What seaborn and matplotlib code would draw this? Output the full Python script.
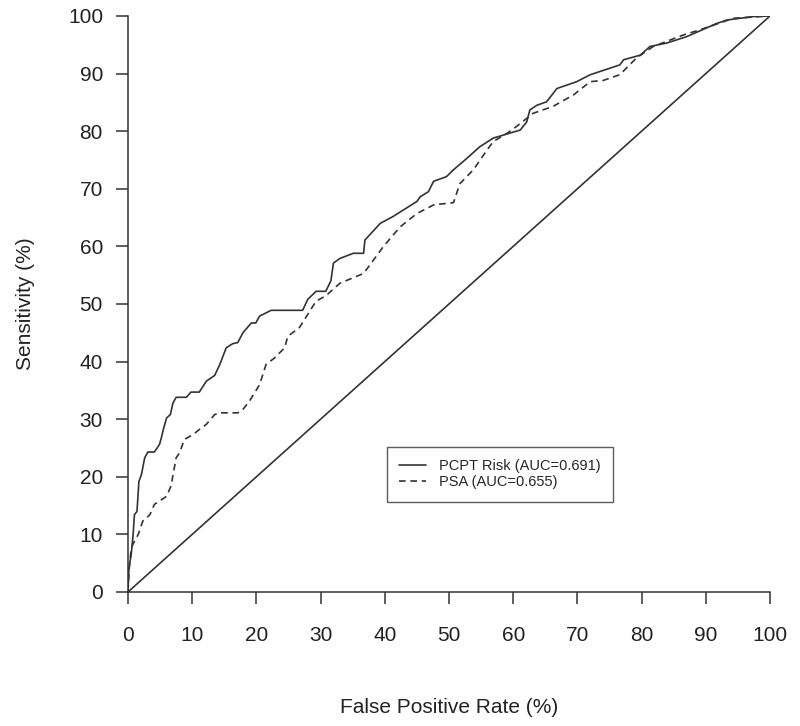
import matplotlib
matplotlib.use("Agg")
import matplotlib.pyplot as plt
import pandas as pd
import seaborn as sns

# ROC points (percent)
pcpt_fpr = [0, 0.15, 0.5, 0.8, 1.0, 1.4, 1.7, 2.1, 2.6, 3.1, 4.1, 4.9, 5.2, 5.5, 6.0,
            6.6, 7.0, 7.5, 9.1, 9.8, 11.1, 12.2, 13.5, 14.3, 15.3, 16.3, 17.1, 17.9, 19.2, 19.9,
            20.5, 22.3, 27.2, 28.0, 29.3, 30.8, 31.6, 32.0, 33.0, 35.1, 36.7, 36.9, 39.3, 41.3, 45.0,
            45.5, 46.8, 47.6, 49.6, 50.7, 52.8, 54.8, 56.9, 59.0, 61.1, 62.1, 62.6, 63.7, 65.2, 66.8,
            69.9, 72.0, 76.6, 77.2, 79.8, 81.3, 83.9, 87.0, 91.7, 93.3, 97.4, 100]
pcpt_sens = [0, 4.2, 6.5, 10, 13.4, 14, 19.2, 20.4, 23.3, 24.3, 24.3, 25.6, 26.8, 28.2, 30.2,
             30.8, 32.8, 33.8, 33.8, 34.7, 34.7, 36.6, 37.6, 39.5, 42.4, 43.1, 43.3, 45, 46.7, 46.7,
             47.9, 48.9, 48.9, 50.8, 52.2, 52.2, 54.0, 57.1, 57.9, 58.8, 58.8, 61.1, 64, 65.2, 67.8,
             68.6, 69.5, 71.3, 72.1, 73.3, 75.3, 77.3, 78.8, 79.5, 80.2, 81.6, 83.7, 84.5, 85.1, 87.4,
             88.6, 89.8, 91.5, 92.4, 93.2, 94.7, 95.3, 96.4, 98.7, 99.3, 99.9, 100]

psa_fpr = [0, 0.15, 0.5, 1.0, 1.6, 2.3, 3.4, 4.1, 6.0, 6.7, 7.5, 8.0, 8.8, 10.1, 11.1,
           12.2, 13.5, 14.3, 17.1, 17.9, 18.9, 20.5, 21.5, 22.8, 24.4, 24.9, 26.7, 28.0, 29.3, 30.8,
           33.0, 36.7, 39.8, 42.4, 45.0, 47.6, 50.7, 51.7, 53.8, 55.9, 56.9, 59.0, 60.5, 63.1, 66.2,
           69.4, 72.0, 74.0, 76.6, 79.2, 81.8, 86.5, 89.1, 94.3, 100]
psa_sens = [0, 3.6, 7.6, 8.8, 10, 12.3, 13.4, 15.2, 16.6, 18.4, 23.3, 24.1, 26.5, 27.3, 28.2,
            29.1, 30.8, 31.1, 31.1, 31.7, 33.1, 36.0, 39.5, 40.6, 42.4, 44.4, 45.9, 48.2, 50.5, 51.4,
            53.6, 55.3, 60.0, 63.4, 65.7, 67.2, 67.6, 70.9, 73.3, 76.7, 78.2, 79.6, 80.8, 83.1, 84.3,
            86.3, 88.6, 88.8, 89.8, 92.7, 94.7, 96.7, 97.6, 99.6, 100]

diag = [0, 100]
labels = ["PCPT Risk (AUC=0.691)", "PSA (AUC=0.655)"]
ticks = list(range(0, 101, 10))

sns.set_style("ticks")
plt.rcParams["font.family"] = ["Liberation Sans", "DejaVu Sans"]

df = pd.concat([
    pd.DataFrame({"fpr": pcpt_fpr, "sens": pcpt_sens, "model": labels[0]}),
    pd.DataFrame({"fpr": psa_fpr, "sens": psa_sens, "model": labels[1]}),
])

fig = plt.figure(figsize=(8, 7.26), dpi=100)
ax = fig.add_axes([0.16, 0.1846, 0.8025, 0.7934])

line_col = "#333333"
text_col = "#222222"
sns.lineplot(data=df, x="fpr", y="sens", style="model", style_order=labels,
             dashes={labels[0]: "", labels[1]: (4, 2.8)}, color=line_col,
             estimator=None, sort=False, linewidth=1.2, ax=ax)
sns.lineplot(x=diag, y=diag, color=line_col, linewidth=1.2, ax=ax, legend=False)

ax.set_xlim(0, 100)
ax.set_ylim(0, 100)
ax.set_xticks(ticks)
ax.set_yticks(ticks)
for side in ["top", "right"]:
    ax.spines[side].set_visible(False)
for side in ["left", "bottom"]:
    ax.spines[side].set_color(line_col)
    ax.spines[side].set_linewidth(1.1)
ax.tick_params(axis="both", direction="out", length=8.5, width=1.1, color=line_col,
               labelsize=15, labelcolor=text_col)
ax.tick_params(axis="x", pad=16)
ax.tick_params(axis="y", pad=9.5)
ax.set_xlabel("False Positive Rate (%)", fontsize=15, labelpad=38, color=text_col)
ax.set_ylabel("Sensitivity (%)", fontsize=15, labelpad=24, color=text_col)

leg = ax.legend(loc="upper left", bbox_to_anchor=(0.403, 0.252), fontsize=10.5,
                frameon=True, fancybox=False, edgecolor="#333333", borderaxespad=0,
                handlelength=1.85, handletextpad=0.9, borderpad=0.85, labelspacing=0.15)
leg.get_frame().set_linewidth(1.0)
for h in leg.get_lines():
    h.set_color(line_col)

fig.savefig("out.png", dpi=100)
